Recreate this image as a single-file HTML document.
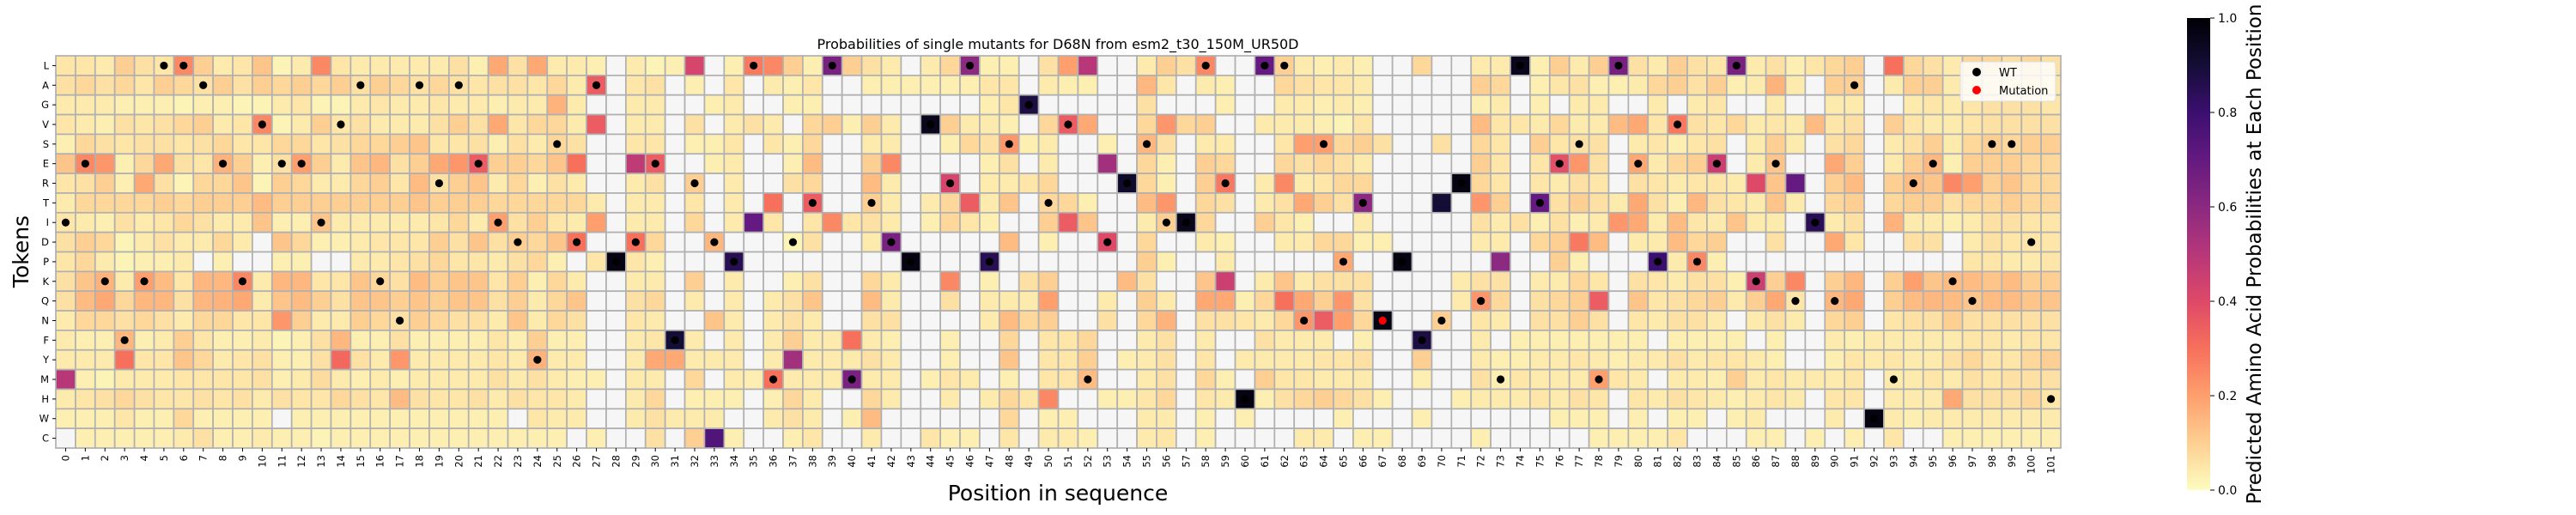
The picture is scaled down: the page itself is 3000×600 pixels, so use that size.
<!DOCTYPE html>
<html><head><meta charset="utf-8"><title>Probabilities of single mutants</title>
<style>
html,body{margin:0;padding:0;background:#fff;}
svg{display:block;font-family:"DejaVu Sans","Liberation Sans",sans-serif;}
</style></head>
<body>
<svg id="chart" width="3000" height="600" viewBox="0 0 3000 600" xmlns="http://www.w3.org/2000/svg">
<defs>
<linearGradient id="cbgrad" x1="0" y1="1" x2="0" y2="0">
<stop offset="0" stop-color="#fcfdbf"/><stop offset="0.1" stop-color="#fecf92"/><stop offset="0.2" stop-color="#fe9f6d"/><stop offset="0.3" stop-color="#f7705c"/><stop offset="0.4" stop-color="#de4968"/><stop offset="0.5" stop-color="#b73779"/><stop offset="0.6" stop-color="#8c2981"/><stop offset="0.7" stop-color="#641a80"/><stop offset="0.8" stop-color="#3b0f70"/><stop offset="0.9" stop-color="#140e36"/><stop offset="1" stop-color="#000004"/>
</linearGradient>
</defs>
<text x="1232" y="57" font-size="16" text-anchor="middle" fill="#000">Probabilities of single mutants for D68N from esm2_t30_150M_UR50D</text>
<g id="cells"></g>
<g id="dots"></g>
<g id="xaxis"></g>
<g id="yaxis"></g>
<text x="1232" y="583" font-size="25" text-anchor="middle" fill="#000">Position in sequence</text>
<text x="0" y="0" font-size="25" text-anchor="middle" fill="#000" transform="translate(33,293) rotate(-90)">Tokens</text>
<g>
<rect x="2283" y="72" width="111" height="46" rx="3" fill="#ffffff" fill-opacity="0.82" stroke="#dddddd" stroke-width="1"/>
<circle cx="2302" cy="84" r="5" fill="#000"/>
<text x="2328" y="89" font-size="13" fill="#000">WT</text>
<circle cx="2302" cy="105" r="5" fill="#ff0000"/>
<text x="2328" y="110" font-size="13" fill="#000">Mutation</text>
</g>
<g>
<rect x="2547" y="21" width="27" height="550" fill="url(#cbgrad)"/>
<g id="cbticks"></g>
<text x="0" y="0" font-size="23" text-anchor="middle" fill="#000" transform="translate(2633,296) rotate(-90)">Predicted Amino Acid Probabilities at Each Position</text>
</g>
</svg>
<script>
const n = null;
const tokens = ["L","A","G","V","S","E","R","T","I","D","P","K","Q","N","F","Y","M","H","W","C"];
const positions = Array.from({length:102},(_,i)=>i);
const rowL=[.05,.05,.04,.1,.06,.05,.25,.1,.04,.05,.12,.02,.04,.25,.05,.04,.04,.04,.04,.04,.06,.03,.18, .06,.18,.04,.04,.03,n,.04,.02,.03,.42,n,.03,.28,.25,.1,.03,.65,.1,.06,.04,n, .04,.08,.6,.03,.03,n,.06,.2,.5,n,n,.04,.1,.06,.25,n,n,.7,.1,.04,.03, .04,.03,n,n,.08,n,n,.04,.04,.95,.03,.1,.04,.1,.65,.06,.04,.1,.06,.05,.65, .04,.06,.03,.05,.08,.1,n,.3,.08,.06,.04,.08,.08,.06,.08,.06];
const rowA=[.06,.08,.06,.08,.05,.1,.08,.06,.1,.06,.1,.08,.1,.08,.1,.06,.1,.08,.06,.08,.06,.05,.06, .06,.05,.08,.04,.35,n,.05,.06,n,.03,n,.05,n,.04,.03,.05,n,n,.03,.03,.03, .03,.03,.03,.05,.05,n,.04,.03,.03,n,n,.15,.05,n,.04,.03,n,n,.08,.06,.05, .05,.04,n,n,n,n,n,.1,.08,n,.03,.05,.06,.03,.03,.04,.08,.1,.06,.1,.03, .04,.16,.04,n,.1,.1,n,.04,.1,.1,.04,.06,.06,.06,.08,.05];
const rowG=[.04,.04,.04,.03,.03,.03,.02,.03,.03,.02,.02,.04,.05,.02,.02,.04,.05,.04,.04,.05,.04,.04,.03, .04,.04,.16,.04,n,n,.04,.04,n,n,.03,.04,n,n,.03,.03,n,n,n,n,n, n,n,n,.03,.05,.88,n,n,n,n,n,.06,n,n,n,.03,n,n,.04,.04,.03, .04,.03,n,n,n,n,n,.03,.04,n,.03,n,.04,.04,n,n,.04,n,.04,.05,n, n,.04,n,n,.04,.04,n,n,.04,.05,.04,.05,.06,.06,.06,.05];
const rowV=[.05,.04,.03,.06,.05,.06,.08,.1,.04,.05,.25,.02,.04,.1,.05,.06,.04,.04,.04,.06,.1,.06,.18, .05,.08,.08,.04,.35,n,.04,.04,n,.06,n,.04,.06,.04,n,.08,.1,.03,.1,.04,n, .95,.1,.04,.04,.03,n,.08,.35,.18,n,n,.08,.22,.08,.1,n,n,.04,.04,.04,.03, .02,.05,n,n,n,n,n,.14,.05,.05,.04,.08,.04,.04,.14,.18,.05,.28,.06,.05,.08, .04,.05,.04,.14,.05,.06,n,.1,.05,.04,.04,.05,.06,.06,.06,.06];
const rowS=[.03,.08,.06,.05,.06,.06,.05,.06,.08,.05,.05,.08,.08,.05,.06,.08,.08,.1,.12,.05,.05,.06,.03, .06,.04,.08,.06,n,n,.05,.05,n,.03,.03,.05,n,.05,.03,.08,n,n,.04,.04,n, n,.03,.08,.06,.22,.03,.04,n,n,.03,n,.15,.06,n,.04,.04,n,n,.05,.2,.2, .08,.1,.06,n,n,.06,n,.08,.05,n,.1,.05,.06,.06,n,.04,.05,.03,.05,.06,n, .04,.1,.04,n,.06,.08,n,.04,.06,.1,.04,.08,.1,.08,.1,.1];
const rowE=[.12,.25,.22,.03,.08,.18,.06,.05,.16,.1,.03,.06,.2,.1,.04,.12,.15,.06,.1,.18,.22,.35,.1, .1,.08,.12,.3,n,n,.48,.35,n,n,.03,.04,n,n,.03,.14,n,n,.1,.25,n, n,n,n,.03,.06,n,.04,n,n,.55,n,.08,.03,n,.1,.08,n,n,.08,.06,.08, .06,.04,n,n,n,n,n,.1,.05,n,.05,.38,.22,.06,n,.18,.04,.08,.1,.45,n, .04,.12,n,n,.18,.1,n,.04,.1,.15,.03,.1,.1,.1,.08,.08];
const rowR=[.05,.06,.1,.03,.18,.06,.02,.08,.08,.12,.02,.1,.08,.04,.04,.08,.1,.05,.14,.06,.1,.12,.04, .08,.03,.06,.04,n,n,.04,.06,n,.1,n,.04,n,n,.06,.08,n,n,.14,.04,n, n,.42,n,.04,.04,.05,.08,n,n,n,.92,.08,.03,n,.1,.28,n,.04,.25,.04,.05, .08,.08,n,n,n,n,.97,.08,.05,n,.05,.04,.06,.05,n,.06,.05,.04,.05,.05,.04, .4,.12,.7,n,.1,.14,n,.1,.14,.12,.25,.2,.1,.12,.08,.08];
const rowT=[.04,.08,.08,.08,.08,.1,.08,.1,.1,.1,.14,.1,.1,.1,.1,.1,.1,.1,.12,.1,.1,.1,.08, .08,.08,.08,.08,.04,n,.04,.04,n,.05,n,.04,n,.3,n,.35,n,n,.1,.04,n, .04,.08,.35,.04,.12,n,.08,.08,.03,n,n,.14,.22,n,.08,.06,n,.04,.06,.18,.1, .06,.6,n,n,n,.9,n,.22,.1,n,.7,.06,.1,.06,.04,.18,.06,.03,.15,.06,.05, .04,.12,.04,n,.08,.1,n,.08,.1,.1,.06,.08,.08,.1,.08,.08];
const rowI=[.05,.04,.03,.06,.04,.05,.08,.06,.04,.04,.12,.03,.03,.12,.04,.04,.04,.04,.04,.05,.08,.04,.2, .06,.1,.05,.04,.2,n,.04,.04,n,.08,n,.04,.7,.05,n,.05,.25,.05,.06,.04,n, .03,.08,.05,.03,n,n,.1,.35,.12,n,n,.04,.1,.95,.08,n,n,.1,.05,.03,n, n,.04,n,n,n,n,n,.06,.04,.06,.03,.06,.03,.04,.22,.18,.04,.14,.05,.04,.12, .04,.04,n,.85,.04,.06,n,.16,.04,.04,.03,.04,.06,.06,.05,.05];
const rowD=[.06,.1,.08,.02,.04,.06,.04,.04,.08,.04,n,.12,.08,.03,.03,.04,.05,.05,.05,.1,.06,.12,.06, .1,.08,.12,.3,n,n,.3,.08,n,n,.15,n,n,n,.02,.06,n,n,.04,.65,n, n,n,n,n,.14,n,.03,n,n,.4,n,.08,n,n,.04,.03,n,n,.04,.04,.08, .08,.03,.03,n,n,n,n,.04,.04,n,.08,.1,.28,.14,n,.04,.04,.14,.08,.1,n, n,.06,n,n,.18,.05,n,n,.06,.06,n,.04,.06,.05,.05,.05];
const rowP=[.05,.08,.04,.02,.03,.03,.04,n,.03,n,n,.03,.03,n,n,.04,.04,.05,.06,.08,.05,.05,.04, .06,.08,.03,n,.05,.97,.05,.03,n,n,n,.85,n,n,n,n,n,n,n,n,.97, n,n,n,.85,n,n,n,n,n,n,n,.1,.03,n,n,.04,n,n,n,n,n, .18,n,n,.97,n,n,n,n,.6,n,n,.1,.03,n,n,n,.8,.04,.25,.03,n, n,n,n,n,n,n,n,n,n,n,n,.05,.05,.04,.04,.05];
const rowK=[.06,.12,.16,.04,.2,.14,.05,.15,.15,.25,.04,.15,.15,.05,.05,.12,.08,.06,.14,.1,.12,.12,.05, .1,.03,.08,.04,n,n,.04,.04,n,.1,n,.04,n,n,.03,.06,n,n,.08,.04,n, n,.25,n,.03,n,.06,.1,n,n,n,.14,.06,n,n,.12,.45,n,.04,.12,.04,.06, .06,.06,n,n,n,n,.04,.06,.06,n,.04,.04,.08,.05,n,.06,.05,.04,.06,.06,.03, .45,.1,.25,n,.1,.15,n,.1,.2,.12,.14,.14,.12,.14,.1,.1];
const rowQ=[.06,.14,.18,.08,.15,.15,.06,.15,.16,.18,.04,.12,.14,.1,.06,.12,.12,.1,.12,.1,.12,.12,.06, .1,.04,.08,.12,n,n,.06,.08,n,.04,n,.04,n,.04,.06,.12,n,n,.14,.04,n, n,.06,n,.04,.04,.04,.2,n,n,.04,n,.1,.04,n,.18,.18,.03,.08,.3,.18,.1, .22,.06,n,n,n,n,.04,.22,.08,n,.06,.08,.1,.35,n,.12,.05,.06,.08,.1,.04, .1,.18,.05,n,.15,.18,n,.1,.14,.15,.14,.12,.14,.14,.12,.12];
const rowN=[.04,.08,.08,.06,.08,.06,.04,.08,.08,.05,.05,.22,.1,.04,.04,.1,.08,.06,.1,.08,.06,.06,.04, .12,.04,.08,.06,n,n,.05,.04,n,n,.12,.04,n,.04,.06,.04,n,n,.06,.06,n, n,n,n,.04,.14,.08,.1,n,n,.06,n,.08,.16,n,.06,.06,.05,.04,.08,.22,.35, .2,.08,.97,n,n,.1,n,.05,.04,n,.06,.06,.1,.06,n,.05,.04,.06,.06,.04,n, .04,.06,.04,n,.08,.1,n,.05,.06,.06,.1,.06,.06,.06,.06,.06];
const rowF=[.04,.03,.03,.15,.03,.04,.1,.05,.03,.03,.04,.02,.03,.06,.15,.03,.03,.06,.03,.03,.03,.03,.05, .03,.1,.03,.03,n,n,.04,.05,.9,.04,n,.04,n,.04,.1,.04,.04,.3,.04,.03,n, n,.03,n,n,.08,n,.05,.05,.08,n,n,.04,.06,n,.04,n,n,.06,.04,.04,.04, n,.03,n,n,.88,n,n,.04,n,.03,.03,.03,.03,.03,.03,.03,n,.03,.03,.03,.03, n,.03,n,n,.04,.03,.04,.04,.04,.04,.04,.05,.05,.04,.05,.05];
const rowY=[.04,.04,.04,.3,.05,.05,.12,.08,.04,.05,.06,.03,.03,.06,.32,.06,.04,.22,.04,.04,.04,.04,.05, .04,.16,.04,.04,n,n,.04,.18,.18,.04,.04,.04,n,.04,.55,.04,.04,.04,.06,.04,n, n,.03,n,n,.12,n,.05,.05,.1,n,.03,.04,.06,n,.05,n,.04,.04,.04,.04,.05, .05,.06,n,n,.1,n,n,.04,.03,.03,.04,.04,.05,.04,.03,.04,.04,.06,.04,.05,.05, .04,.03,n,n,.03,.05,.04,.05,.04,.04,.06,.08,.05,.05,.08,.1];
const rowM=[.5,.03,.02,.04,.04,.04,.05,.05,.05,.05,.06,.03,.04,.07,.04,.03,.04,.03,.04,.04,.04,.04,.06, .04,.06,.04,.03,.03,n,.04,.04,n,.08,n,.04,.03,.3,.04,.04,.04,.65,.04,.04,n, .03,.05,.04,n,.03,n,.05,.05,.14,n,n,.04,.06,n,.08,.03,n,.1,.05,.05,.04, .04,.04,n,n,.03,n,n,.06,.03,.05,.04,.04,.04,.2,.05,.04,n,.04,.04,.03,.1, .04,.05,.04,.04,.04,.05,n,.04,.04,.05,.04,.06,.05,.06,.06,.06];
const rowH=[.04,.05,.06,.08,.06,.05,.05,.06,.05,.06,.04,.06,.05,.05,.08,.06,.05,.14,.06,.05,.05,.06,.04, .06,.05,.05,.04,n,n,.04,.08,n,.03,.03,.03,n,.03,.08,.04,n,n,.08,.04,n, n,.04,n,.04,.08,.05,.25,n,n,.03,.03,.05,.08,n,.05,.04,.97,.03,.06,.08,.1, .08,.06,.03,n,n,n,.03,.04,.04,.04,.05,.04,.06,.05,n,.05,.04,.06,.05,.04,.03, .04,.05,.04,n,.05,.05,n,.04,.04,.04,.18,.06,.06,.06,.08,.05];
const rowW=[.03,.03,.03,.05,.03,.03,.08,.03,.03,.03,.03,n,.03,.03,.03,.03,.03,.03,.03,.03,.03,.03,.03, n,.05,.04,.04,n,n,.04,.06,.04,.04,.04,n,n,.04,.06,.04,n,.03,.14,n,n, n,n,n,n,.08,n,.03,.03,n,n,n,.04,.04,n,.03,n,.03,n,n,n,n, .03,n,n,n,.03,n,n,n,n,n,n,.03,.03,.03,n,.03,n,.03,.03,n,.03, .04,n,n,n,.04,n,.97,.04,.03,.04,.04,.04,.04,.04,.04,.04];
const rowC=[n,.03,.03,.03,.03,.03,.04,.06,.03,.03,.04,.03,.03,.02,.03,.03,.03,.03,.03,.03,.03,.03,.03, .03,.03,.03,n,.03,n,n,.06,n,.1,.75,.03,n,n,.03,.05,n,n,.04,n,n, .05,.03,.03,n,.05,n,.04,.04,.03,n,n,.04,.05,n,.03,n,n,n,n,.04,.04, n,.03,.03,n,n,n,n,.03,n,n,n,n,n,.03,.03,.03,.03,.05,n,n,n, .03,.03,n,.03,n,.03,n,.05,n,n,.03,.03,.03,.03,.03,.03];
const values=[rowL,rowA,rowG,rowV,rowS,rowE,rowR,rowT,rowI,rowD,rowP,rowK,rowQ,rowN,rowF,rowY,rowM,rowH,rowW,rowC];
const wildType=["I","E","K","F","K","L","L","A","E","K","V","E","E","I","V","A","K","N","A","R","A","E","I","D","Y","S","D","A","P","D","E","F","R","D","P","L","M","D","T","L","M","T","D","P","V","R","L","P","S","G","T","V","M","D","R","S","I","I","L","R","H","L","L","N","S","P","T",null,"P","F","N","R","Q","M","L","T","E","S","M","L","E","P","V","P","E","L","K","E","Q","I","Q","A","W","M","R","E","K","Q","S","S","D","H"];
const mutationPos=[67];
const mutationTok=["N"];
const cbTicks=[0,0.2,0.4,0.6,0.8,1.0];

const NS="http://www.w3.org/2000/svg";
const X0=65,X1=2400,Y0=65,Y1=522;
const cw=(X1-X0)/positions.length, ch=(Y1-Y0)/tokens.length;
const xScale=i=>X0+i*cw;
const yScale=j=>Y0+j*ch;
const stops=[[0,[0,0,4]],[.1,[20,14,54]],[.2,[59,15,112]],[.3,[100,26,128]],[.4,[140,41,129]],[.5,[183,55,121]],[.6,[222,73,104]],[.7,[247,112,92]],[.8,[254,159,109]],[.9,[254,207,146]],[1,[252,253,191]]];
function color(v){
  const t=Math.max(0,Math.min(1,1-v));
  for(let k=1;k<stops.length;k++){
    if(t<=stops[k][0]){const a=stops[k-1],b=stops[k];const f=(t-a[0])/(b[0]-a[0]);
      const c=a[1].map((x,i)=>Math.round(x+(b[1][i]-x)*f));return `rgb(${c[0]},${c[1]},${c[2]})`;}
  }
  return "rgb(252,253,191)";
}
function mk(tag,attrs,parent){const e=document.createElementNS(NS,tag);for(const k in attrs)e.setAttribute(k,attrs[k]);parent.appendChild(e);return e;}
const gCells=document.getElementById("cells");
tokens.forEach((tok,j)=>{
  positions.forEach((p,i)=>{
    const v=values[j][i];
    const r=mk("rect",{x:xScale(i),y:yScale(j),width:cw,height:ch,fill:v===null?"#f6f6f6":color(v),stroke:"#b0b0b0","stroke-width":1.7},gCells);
    
    
  });
});
const gDots=document.getElementById("dots");
wildType.forEach((tok,i)=>{
  if(tok===null)return;
  const j=tokens.indexOf(tok);
  const c=mk("circle",{cx:xScale(i)+cw/2,cy:yScale(j)+ch/2,r:4.6,fill:"#000"},gDots);
  
  
});
mutationPos.forEach((p,k)=>{
  const j=tokens.indexOf(mutationTok[k]);
  const c=mk("circle",{cx:xScale(p)+cw/2,cy:yScale(j)+ch/2,r:4.6,fill:"#ff0000"},gDots);
  
  
});
const gx=document.getElementById("xaxis");
positions.forEach((p,i)=>{
  const cx=xScale(i)+cw/2;
  const t=mk("line",{x1:cx,y1:Y1,x2:cx,y2:Y1+4,stroke:"#000","stroke-width":1},gx);
  
  
  const l=mk("text",{x:0,y:0,"font-size":11.5,"text-anchor":"end",transform:`translate(${cx+4},${Y1+8}) rotate(-90)`},gx);
  l.textContent=String(p);
  
  
});
const gy=document.getElementById("yaxis");
tokens.forEach((tok,j)=>{
  const cy=yScale(j)+ch/2;
  const t=mk("line",{x1:X0-4,y1:cy,x2:X0,y2:cy,stroke:"#000","stroke-width":1},gy);
  
  
  const l=mk("text",{x:X0-8,y:cy+4,"font-size":11.5,"text-anchor":"end"},gy);
  l.textContent=tok;
  
  
});
const gcb=document.getElementById("cbticks");
const CB0=571,CB1=21;
cbTicks.forEach(v=>{
  const y=CB0+(CB1-CB0)*v;
  const t=mk("line",{x1:2574,y1:y,x2:2579,y2:y,stroke:"#000","stroke-width":1},gcb);
  
  
  const l=mk("text",{x:2583,y:y+5,"font-size":14},gcb);
  l.textContent=v.toFixed(1);
  
  
});
</script>
</body></html>
